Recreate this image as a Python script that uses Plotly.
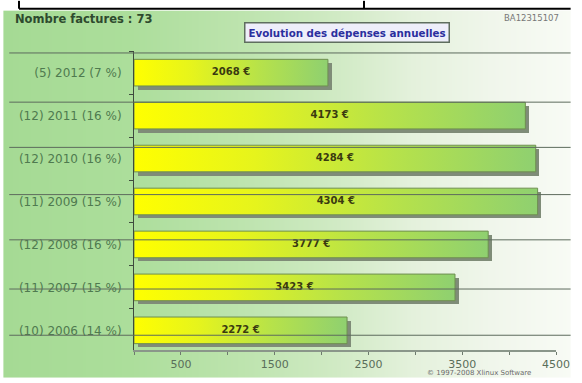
import base64, struct, zlib
import plotly.graph_objects as go

# ---------------- data ----------------
years = ["2012", "2011", "2010", "2009", "2008", "2007", "2006"]
counts = [5, 12, 12, 11, 12, 11, 10]
percents = [7, 16, 16, 15, 16, 15, 14]
amounts = [2068, 4173, 4284, 4304, 3777, 3423, 2272]
x_ticks = [500, 1500, 2500, 3500, 4500]
total_invoices = 73

labels = [f"({c}) {y} ({p} %)" for c, y, p in zip(counts, years, percents)]
pos = [len(years) - 1 - k for k in range(len(years))]  # 2012 at top

# ---------------- geometry helpers (pixels -> paper) ----------------
W, H = 582, 383
ML, MR, MT, MB = 134, 15, 51, 28
PW, PH = W - ML - MR, H - MT - MB


def px(x):
    return (x - ML) / PW


def py(y):
    return (H - MB - y) / PH


# ---------------- background gradient as a tiny PNG ----------------
stops = [(0, (165, 218, 148)), (130, (172, 222, 155)), (250, (190, 228, 175)),
         (340, (208, 234, 196)), (420, (228, 241, 220)), (500, (240, 246, 235)),
         (582, (248, 251, 245))]


def col_at(x):
    for (x0, c0), (x1, c1) in zip(stops[:-1], stops[1:]):
        if x0 <= x <= x1:
            t = (x - x0) / (x1 - x0)
            return tuple(int(round(a + (b - a) * t)) for a, b in zip(c0, c1))
    return stops[-1][1]


def png_uri(width):
    row = b"\x00" + b"".join(bytes(col_at(i + 0.5)) for i in range(width))

    def chunk(t, d):
        return struct.pack(">I", len(d)) + t + d + struct.pack(">I", zlib.crc32(t + d) & 0xFFFFFFFF)

    png = (b"\x89PNG\r\n\x1a\n" + chunk(b"IHDR", struct.pack(">IIBBBBB", width, 1, 8, 2, 0, 0, 0))
           + chunk(b"IDAT", zlib.compress(row)) + chunk(b"IEND", b""))
    return "data:image/png;base64," + base64.b64encode(png).decode()


FONT = "DejaVu Sans"
half_h = 0.31
shadow_dx = 38
shadow_dy = 0.085

fig = go.Figure()

# shadow bars
fig.add_trace(go.Bar(
    orientation="h", y=pos, x=amounts, base=shadow_dx,
    offset=-half_h - shadow_dy, width=2 * half_h,
    marker=dict(color="#7f8c78", line=dict(width=0)),
    hoverinfo="skip", showlegend=False))

# gradient bars
for p, v in zip(pos, amounts):
    fig.add_trace(go.Scatter(
        x=[0, v, v, 0, 0], y=[p - half_h, p - half_h, p + half_h, p + half_h, p - half_h],
        mode="lines", fill="toself",
        fillgradient=dict(type="horizontal",
                          colorscale=[[0, "#ffff00"], [0.3, "#e6f41c"], [0.65, "#b6e24a"], [1, "#8fd070"]]),
        line=dict(color="#6f8f50", width=1),
        hoverinfo="skip", showlegend=False))

# value labels
fig.add_trace(go.Scatter(
    x=[v / 2 for v in amounts], y=pos, mode="text",
    text=[f"{v} €" for v in amounts],
    textfont=dict(family=FONT, size=10, color="#3a3a10", weight="bold"),
    hoverinfo="skip", showlegend=False))

shapes = []
# separator lines across the chart (drawn above)
for yy in [53, 103, 149, 197, 243, 293, 340]:
    shapes.append(dict(type="line", xref="paper", yref="paper", x0=px(6), x1=px(W),
                       y0=py(yy), y1=py(yy), line=dict(color="#5d6b5d", width=1), layer="above"))
# table borders at the very top
shapes += [
    dict(type="line", xref="paper", yref="paper", x0=px(16), x1=px(W), y0=py(8), y1=py(8),
         line=dict(color="black", width=2)),
    dict(type="line", xref="paper", yref="paper", x0=px(16), x1=px(16), y0=py(0), y1=py(8),
         line=dict(color="black", width=2)),
    dict(type="line", xref="paper", yref="paper", x0=px(370), x1=px(370), y0=py(0), y1=py(8),
         line=dict(color="black", width=2)),
]

annotations = [
    dict(text=f"Nombre factures : {total_invoices}", xref="paper", yref="paper",
         x=px(10), y=py(18), xanchor="left", yanchor="middle", showarrow=False,
         font=dict(family=FONT, size=11.5, color="#2e4a2e", weight="bold")),
    dict(text="BA12315107", xref="paper", yref="paper",
         x=px(512), y=py(17), xanchor="left", yanchor="middle", showarrow=False,
         font=dict(family=FONT, size=8.5, color="#777777")),
    dict(text="Evolution des dépenses annuelles", xref="paper", yref="paper",
         x=px(353), y=py(32), xanchor="center", yanchor="middle", showarrow=False,
         font=dict(family=FONT, size=10.3, color="#2b2f9e", weight="bold"),
         bgcolor="#eeeefa", bordercolor="#5f6e5f", borderwidth=1.5, borderpad=3),
    dict(text="© 1997-2008 Xlinux Software", xref="paper", yref="paper",
         x=px(433), y=py(378), xanchor="left", yanchor="middle", showarrow=False,
         font=dict(family=FONT, size=7, color="#6a6a6a")),
]

fig.update_layout(
    width=W, height=H,
    margin=dict(l=ML, r=MR, t=MT, b=MB),
    paper_bgcolor="white", plot_bgcolor="rgba(0,0,0,0)",
    showlegend=False,
    shapes=shapes, annotations=annotations,
    images=[dict(source=png_uri(W), xref="paper", yref="paper",
                 x=px(0), y=py(10), sizex=W / PW, sizey=(H - 10) / PH,
                 xanchor="left", yanchor="top", sizing="stretch", layer="below")],
    xaxis=dict(range=[0, 4500], tickmode="array", tickvals=x_ticks,
               ticks="outside", ticklen=3, tickcolor="#6d7a6d",
               tickfont=dict(family=FONT, size=11, color="#5a6e5a"),
               showgrid=False, zeroline=False, showline=True, linecolor="#8a968a", linewidth=2,
               minor=dict(tick0=0, dtick=500, ticks="outside", ticklen=3, tickcolor="#6d7a6d")),
    yaxis=dict(range=[-0.458, 6.504], tickmode="array", tickvals=pos, ticktext=labels,
               ticks="", tickfont=dict(family=FONT, size=12, color="#4f7a4f"),
               showgrid=False, zeroline=False, showline=True, linecolor="#3e4a3e", linewidth=1,
               ticklabelstandoff=9,
               minor=dict(tick0=0.5, dtick=1, ticks="outside", ticklen=4, tickcolor="#3e4a3e")),
    bargap=0,
)

fig.write_html("out.html", config={"displayModeBar": False},
               post_script="document.body.style.margin='0';")
